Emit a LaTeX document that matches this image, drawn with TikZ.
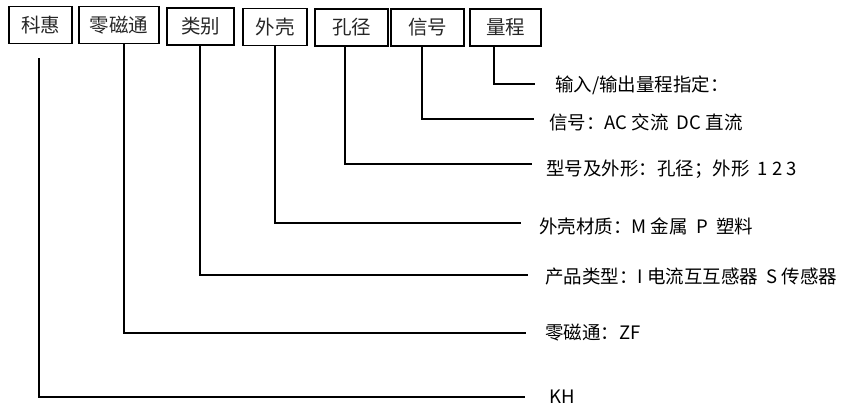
\documentclass[tikz,border=0pt]{standalone}
\usepackage{fontspec}
\setmainfont{Noto Sans CJK SC}
\newfontfamily\cjkfont{Noto Sans CJK SC}
\begin{document}
\begin{tikzpicture}[x=1pt,y=-1pt,
  topbox/.style={draw, line width=1.3pt, inner sep=0pt, minimum height=37pt,
    font=\cjkfont\fontsize{19.5}{22}\selectfont, text=black!85},
  lbl/.style={anchor=west, inner sep=0pt, font=\cjkfont\fontsize{18.5}{22}\selectfont},
  lead/.style={line width=1.2pt},
  mainlead/.style={line width=2.6pt}]
\useasboundingbox (0,0) rectangle (846,407);
% boxes
\node[topbox, minimum width=63pt] (b1) at (40.5,25) {科惠};
\node[topbox, minimum width=80pt] (b2) at (119,25) {零磁通};
\node[topbox, minimum width=67pt] (b3) at (200.5,26.5) {类别};
\node[topbox, minimum width=64pt] (b4) at (275,27) {外壳};
\node[topbox, minimum width=73pt] (b5) at (351.5,27.5) {孔径};
\node[topbox, minimum width=73pt] (b6) at (427.5,27.5) {信号};
\node[topbox, minimum width=71pt] (b7) at (505.5,27.5) {量程};
% labels
\node[lbl] (l7) at (555,85) {输入/输出量程指定：};
\node[lbl] (l6) at (549,122) {信号：AC 交流\ \ DC 直流};
\node[lbl] (l5) at (546,169) {型号及外形：孔径；外形\ \ 1 2 3};
\node[lbl] (l4) at (539,226) {外壳材质：M 金属\ \ P\ \ 塑料};
\node[lbl] (l3) at (545,277) {产品类型：I 电流互互感器\ \ S 传感器};
\node[lbl] (l2) at (545,333) {零磁通：ZF};
\node[lbl] (l1) at (549,397) {KH};
% line ends
\coordinate (s1) at (39,58);
\coordinate (e1) at (525,397);
\coordinate (e2) at (526,333);
\coordinate (e3) at (528,275);
\coordinate (e4) at (521,223);
\coordinate (e5) at (532,164);
\coordinate (e6) at (534,119);
\coordinate (e7) at (535,84);
% connectors
\draw[mainlead] (s1) |- (e1);
\draw[lead] ([xshift=5pt]b2.south) |- (e2);
\draw[lead] ([xshift=-0.5pt]b3.south) |- (e3);
\draw[lead] (b4.south) |- (e4);
\draw[lead] ([xshift=-6.5pt]b5.south) |- (e5);
\draw[lead] ([xshift=-5.5pt]b6.south) |- (e6);
\draw[lead] ([xshift=-11.5pt]b7.south) |- (e7);
\end{tikzpicture}
\end{document}
